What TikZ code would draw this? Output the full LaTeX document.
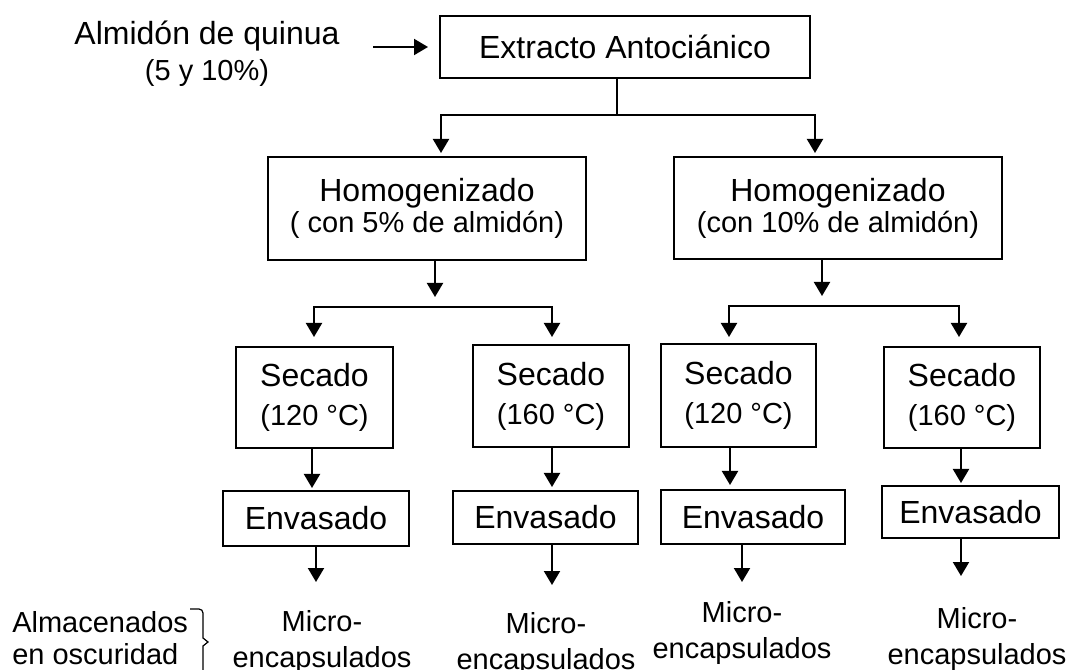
\documentclass[tikz,border=0pt]{standalone}
\usepackage{fontspec}
\setmainfont{Liberation Sans}
\usetikzlibrary{arrows.meta,calc}
\newcommand{\fsml}{\fontsize{21.75}{24}\selectfont}
\begin{document}
\begin{tikzpicture}[x=0.75pt,y=-0.75pt,
  box/.style={draw,line width=1.5pt,inner sep=0pt,align=center},
  hbox/.style={box,font=\fontsize{24}{23.25}\selectfont},
  sbox/.style={box,font=\fontsize{24}{29.25}\selectfont},
  ebox/.style={box,font=\fontsize{24}{24}\selectfont},
  mtxt/.style={align=center,inner sep=0pt,anchor=base,font=\fontsize{21.75}{27}\selectfont},
  conn/.style={line width=1.5pt},
  arr/.style={line width=1.5pt,-{Triangle[width=12pt,length=10.5pt]}},
]
\useasboundingbox (0,0) rectangle (1072,670);

% top
\node[ebox,minimum width=370*0.75pt,minimum height=62*0.75pt] (ext) at (625,47) {Extracto Antociánico};
\node[align=center,inner sep=0pt,anchor=base,font=\fontsize{24}{27}\selectfont] (alm) at (207,81) {Almidón de quinua\\{\fsml(5 y 10\%)}};
\coordinate (a0) at (373,47);
\draw[arr] (a0) -- ($(ext.west)+(-11,0)$);

% homogenizado
\node[hbox,minimum width=318*0.75pt,minimum height=103*0.75pt] (h1) at (427,208.5) {Homogenizado\\{\fsml( con 5\% de almidón)}};
\node[hbox,minimum width=328*0.75pt,minimum height=102*0.75pt] (h2) at (838,208) {Homogenizado\\{\fsml(con 10\% de almidón)}};

\coordinate (j0) at (617,115);
\draw[conn] (ext.south -| j0) -- (j0);
\draw[arr] (j0) -| ($(h1.north)+(14,-3)$);
\draw[arr] (j0) -| ($(h2.north)+(-23,-3)$);

% secado
\node[sbox,minimum width=157*0.75pt,minimum height=101*0.75pt] (s1) at (314.5,397.5) {Secado\\{\fsml(120 °C)}};
\node[sbox,minimum width=156*0.75pt,minimum height=102*0.75pt] (s2) at (551,396) {Secado\\{\fsml(160 °C)}};
\node[sbox,minimum width=155*0.75pt,minimum height=103*0.75pt] (s3) at (738.5,395.5) {Secado\\{\fsml(120 °C)}};
\node[sbox,minimum width=156*0.75pt,minimum height=101*0.75pt] (s4) at (962,397.5) {Secado\\{\fsml(160 °C)}};

\coordinate (hb1) at (435,307);
\coordinate (hb2) at (822,306);
\draw[arr] ($(h1.south)+(8,0)$) -- ($(hb1)+(0,-10)$);
\draw[arr] ($(h2.south)+(-16,0)$) -- ($(hb2)+(0,-10)$);
\draw[arr] (hb1) -| ($(s1.north)+(-0.5,-9)$);
\draw[arr] (hb1) -| ($(s2.north)+(1,-7)$);
\draw[arr] (hb2) -| ($(s3.north)+(-9.5,-6)$);
\draw[arr] (hb2) -| ($(s4.north)+(-3,-9)$);

% envasado
\node[ebox,minimum width=186*0.75pt,minimum height=55*0.75pt] (e1) at (316,518.5) {Envasado};
\node[ebox,minimum width=185*0.75pt,minimum height=53*0.75pt] (e2) at (545.5,517.5) {Envasado};
\node[ebox,minimum width=184*0.75pt,minimum height=54*0.75pt] (e3) at (753,517) {Envasado};
\node[ebox,minimum width=177*0.75pt,minimum height=52*0.75pt] (e4) at (970.5,512) {Envasado};

\draw[arr] ($(s1.south)+(-2.5,0)$) -- ($(e1.north)+(-4,-2)$);
\draw[arr] ($(s2.south)+(1,0)$) -- ($(e2.north)+(6.5,-3)$);
\draw[arr] ($(s3.south)+(-8.5,0)$) -- ($(e3.north)+(-23,-4)$);
\draw[arr] ($(s4.south)+(-1,0)$) -- ($(e4.north)+(-9.5,-2)$);

% micro-encapsulados
\node[mtxt] (m1) at (322,667) {Micro-\\encapsulados};
\node[mtxt] (m2) at (546,669) {Micro-\\encapsulados};
\node[mtxt] (m3) at (742,658) {Micro-\\encapsulados};
\node[mtxt] (m4) at (977,664) {Micro-\\encapsulados};

\coordinate (t1) at (316,582);
\coordinate (t2) at (552,585);
\coordinate (t3) at (742,582);
\coordinate (t4) at (961,576);
\draw[arr] (e1.south -| t1) -- (t1);
\draw[arr] (e2.south -| t2) -- (t2);
\draw[arr] (e3.south -| t3) -- (t3);
\draw[arr] (e4.south -| t4) -- (t4);

% almacenados
\node[align=left,anchor=base west,inner sep=0pt,font=\fontsize{21.75}{24}\selectfont] (alma) at (12,664) {Almacenados\\en oscuridad};
\draw[line width=0.9pt] (190,609) -- (199,609) to[out=0,in=90] (203,613) -- (203,638) -- (208,642) -- (203,646) -- (203,675);
\end{tikzpicture}
\end{document}
